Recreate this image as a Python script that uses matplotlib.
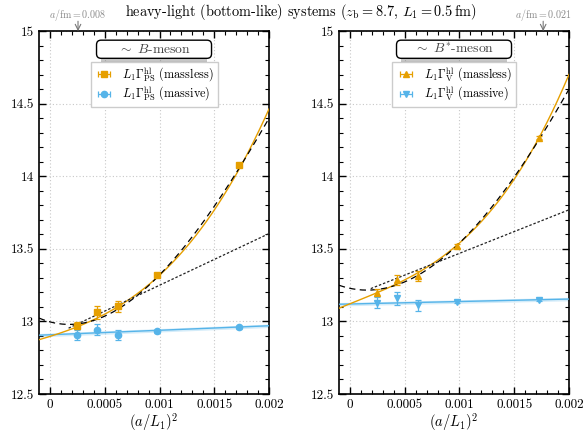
import matplotlib
matplotlib.use("Agg")
import matplotlib.pyplot as plt
import numpy as np
from matplotlib.patches import FancyBboxPatch, Rectangle

plt.rcParams['font.family'] = 'serif'
plt.rcParams['font.serif'] = ['cmr10', 'DejaVu Serif']
plt.rcParams['mathtext.fontset'] = 'cm'
plt.rcParams['axes.formatter.use_mathtext'] = True

ORANGE = '#E69F00'
BLUE = '#56B4E9'

# (a/L1)^2 of the five lattices
x_pts = [0.000245, 0.000433, 0.000625, 0.000975, 0.00173]

# pseudoscalar (B-meson)
ps_massless = [12.97, 13.062, 13.104, 13.318, 14.076]
ps_massless_err = [0.025, 0.044, 0.038, 0.012, 0.010]
ps_massive = [12.909, 12.943, 12.904, 12.931, 12.959]
ps_massive_err = [0.035, 0.038, 0.035, 0.010, 0.008]

# vector (B*-meson)
v_massless = [13.199, 13.285, 13.312, 13.518, 14.264]
v_massless_err = [0.022, 0.037, 0.034, 0.012, 0.010]
v_massive = [13.13, 13.16, 13.112, 13.137, 13.15]
v_massive_err = [0.038, 0.045, 0.037, 0.010, 0.010]

# fit curves, cubic coefficients in u = x / 0.001 (estimated from the plot)
ps_fit_massless = [12.8967, 0.23614, 0.0965, 0.08862]
ps_fit_dashed = [12.9968, -0.2024, 0.5993, -0.07365]
ps_fit_linear = [12.893, 0.356]      # short dashed, starts at u = 0.17
ps_fit_massive = [12.908, 0.031]
v_fit_massless = [13.1216, 0.30316, -0.0129, 0.12816]
v_fit_dashed = [13.2279, -0.15874, 0.51914, -0.04829]
v_fit_linear = [13.169, 0.30]        # short dashed, starts at u = 0.19
v_fit_massive = [13.12, 0.017]

xticks = [0, 0.0005, 0.001, 0.0015, 0.002]
xtick_labels = ['0', '0.0005', '0.001', '0.0015', '0.002']
yticks = [12.5, 13, 13.5, 14, 14.5, 15]
ytick_labels = ['12.5', '13', '13.5', '14', '14.5', '15']


def poly(c, x):
    u = np.asarray(x) / 1e-3
    return sum(ci * u**i for i, ci in enumerate(c))


def draw_panel(ax, title, lab, m1, m1e, m2, m2e, fit_ml, fit_d, fit_lin, lin_start,
               fit_mv, mk1, mk2, mark_a, mark_text):
    xx = np.linspace(-0.0001, 0.002, 300)
    xl = np.linspace(lin_start, 0.002, 100)

    ax.fill_between(xx, poly(fit_mv, xx) - 0.012, poly(fit_mv, xx) + 0.012,
                    color=BLUE, alpha=0.25, lw=0, zorder=2)
    ax.plot(xx, poly(fit_mv, xx), color=BLUE, lw=1.0, zorder=3)
    ax.plot(xx, poly(fit_ml, xx), color=ORANGE, lw=1.0, zorder=3)
    ax.plot(xx, poly(fit_d, xx), color='black', lw=0.9, ls=(0, (5, 3.5)), zorder=4)
    ax.plot(xl, poly(fit_lin, xl), color='#222222', lw=0.9, ls=(0, (2, 1.5)), zorder=4)

    ekw = dict(ms=4.5, capsize=2.5, elinewidth=0.9, capthick=0.9, zorder=5)
    ax.errorbar(x_pts, m1, yerr=m1e, fmt=mk1, color=ORANGE, **ekw)
    ax.errorbar(x_pts, m2, yerr=m2e, fmt=mk2, color=BLUE, **ekw)
    # legend proxies (horizontal bars like the original)
    ax.errorbar([np.nan], [np.nan], xerr=[1], fmt=mk1, color=ORANGE, label=lab[0], **ekw)
    ax.errorbar([np.nan], [np.nan], xerr=[1], fmt=mk2, color=BLUE, label=lab[1], **ekw)

    ax.set_xlim(-0.0001, 0.002)
    ax.set_ylim(12.5, 15)
    ax.set_xticks(xticks)
    ax.set_xticklabels(xtick_labels)
    ax.set_yticks(yticks)
    ax.set_yticklabels(ytick_labels)
    ax.set_xticks(np.arange(0, 0.00201, 0.0001), minor=True)
    ax.set_yticks(np.arange(12.5, 15.01, 0.1), minor=True)
    ax.tick_params(which='both', direction='in', top=True, right=True, labelsize=9.5)
    ax.tick_params(which='major', length=5, width=1)
    ax.tick_params(which='minor', length=3, width=0.8)
    for s in ax.spines.values():
        s.set_linewidth(1.2)
    ax.grid(True, which='major', ls=(0, (1, 2)), color='#c8c8c8', lw=0.8)
    ax.set_axisbelow(True)
    ax.set_xlabel(r'$(a/L_1)^2$', fontsize=10.5, labelpad=0)

    # title box with shadow
    for k, al in enumerate([0.30, 0.20, 0.10]):
        ax.add_patch(Rectangle((0.27, 0.912 - 0.005 * k), 0.46, 0.016, transform=ax.transAxes,
                               color='gray', alpha=al, lw=0, zorder=6, clip_on=False))
    ax.add_patch(FancyBboxPatch((0.25, 0.925), 0.50, 0.05, transform=ax.transAxes,
                                boxstyle='round,pad=0,rounding_size=0.02',
                                mutation_aspect=0.63, fc='white', ec='black', lw=1.0,
                                zorder=7, clip_on=False))
    ax.text(0.5, 0.950, title, transform=ax.transAxes, ha='center', va='center',
            fontsize=9.8, color='#444444', zorder=8)

    leg = ax.legend(loc='upper center', bbox_to_anchor=(0.5, 0.916), fontsize=8.8,
                    fancybox=False, framealpha=1, edgecolor='#cccccc', borderaxespad=0,
                    handlelength=1.6, borderpad=0.3, labelspacing=0.1, handletextpad=0.7)
    leg.get_frame().set_linewidth(1.0)
    leg.set_zorder(9)

    ax.annotate('', xy=(mark_a, 15.0), xytext=(mark_a, 15.068), xycoords='data',
                arrowprops=dict(arrowstyle='->', color='#777777', lw=0.8,
                                shrinkA=0, shrinkB=0), annotation_clip=False)
    ax.text(mark_a, 15.112, mark_text, ha='center', va='center', fontsize=7.2,
            color='#8a8a8a', clip_on=False)


fig = plt.figure(figsize=(5.85, 4.32), dpi=100)
ax1 = fig.add_axes([0.0667, 0.088, 0.3932, 0.840])
ax2 = fig.add_axes([0.5795, 0.088, 0.3932, 0.840])

draw_panel(ax1, r'$\sim\ B$-meson',
           [r'$L_1\Gamma^{\mathrm{hl}}_{\mathrm{PS}}$ (massless)',
            r'$L_1\Gamma^{\mathrm{hl}}_{\mathrm{PS}}$ (massive)'],
           ps_massless, ps_massless_err, ps_massive, ps_massive_err,
           ps_fit_massless, ps_fit_dashed, ps_fit_linear, 0.00017, ps_fit_massive,
           's', 'o', (0.008 / 0.5) ** 2, r'$a/\mathrm{fm} = 0.008$')
draw_panel(ax2, r'$\sim\ B^{*}$-meson',
           [r'$L_1\Gamma^{\mathrm{hl}}_{\mathrm{V}}$ (massless)',
            r'$L_1\Gamma^{\mathrm{hl}}_{\mathrm{V}}$ (massive)'],
           v_massless, v_massless_err, v_massive, v_massive_err,
           v_fit_massless, v_fit_dashed, v_fit_linear, 0.00019, v_fit_massive,
           '^', 'v', (0.021 / 0.5) ** 2, r'$a/\mathrm{fm} = 0.021$')

fig.text(0.515, 0.972, r'heavy-light (bottom-like) systems ($z_{\mathrm{b}} = 8.7$, $L_1 = 0.5\,$fm)',
         ha='center', va='center', fontsize=10.3)

fig.savefig('out.png', dpi=100)
